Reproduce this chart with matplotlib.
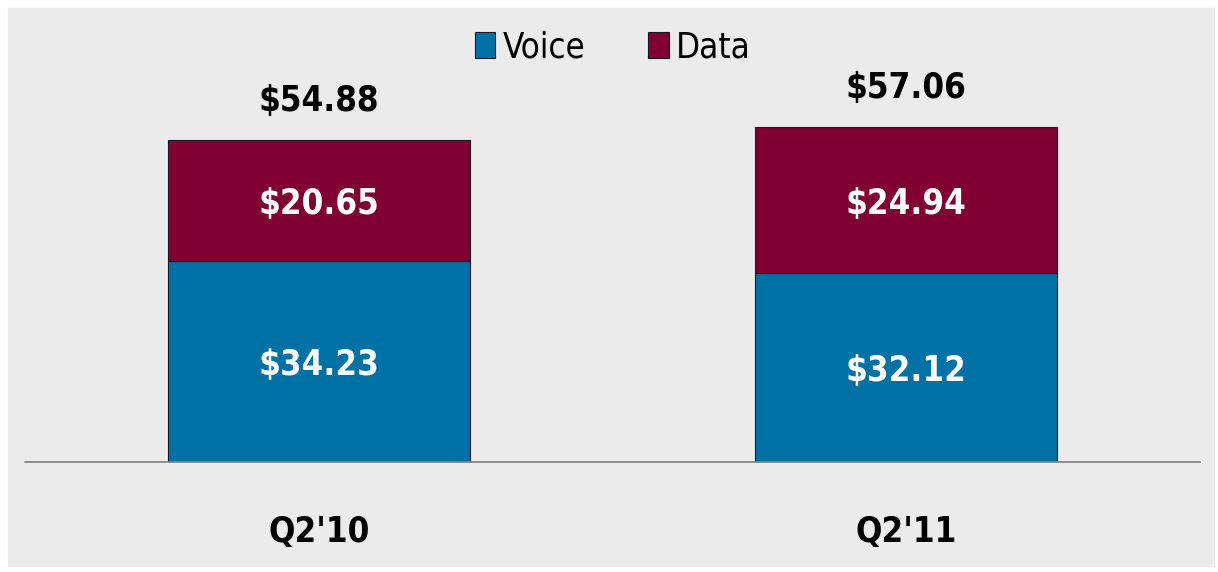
import matplotlib.pyplot as plt
import numpy as np

plt.rcParams['font.family'] = ['DejaVu Sans']
plt.rcParams['font.stretch'] = 'condensed'

quarters = ["Q2'10", "Q2'11"]
voice = [34.23, 32.12]
data = [20.65, 24.94]
totals = [54.88, 57.06]

blue = '#0071a4'
red = '#7f0031'
bg = '#ebebeb'

fig = plt.figure(figsize=(12.18, 5.72), dpi=100)
fig.patch.set_facecolor('white')
# gray panel
fig.patches.append(plt.Rectangle((8 / 1218, 6 / 572), 1206 / 1218, 558 / 572,
                                 transform=fig.transFigure, color=bg, zorder=-1))

ax = fig.add_axes([25 / 1218, 110 / 572, 1175 / 1218, 454 / 572])
ax.set_zorder(2)
ax.set_facecolor('none')
x = np.arange(len(quarters))
w = 0.514

ax.bar(x, voice, w, color=blue, edgecolor='#1a1a2a', linewidth=0.8, label='Voice')
ax.bar(x, data, w, bottom=voice, color=red, edgecolor='#1a1a2a', linewidth=0.8, label='Data')

for i in range(len(quarters)):
    ax.text(x[i], voice[i] / 2 - 0.6, f'${voice[i]:.2f}', ha='center', va='center',
            color='white', fontsize=25, fontweight='bold')
    ax.text(x[i], voice[i] + data[i] / 2 - 0.6, f'${data[i]:.2f}', ha='center', va='center',
            color='white', fontsize=25, fontweight='bold')
    ax.annotate(f'${totals[i]:.2f}', (x[i], totals[i]), xytext=(0, 28),
                textcoords='offset points', ha='center', va='center',
                fontsize=25, fontweight='bold', color='black')

ax.set_xlim(-0.5, 1.5)
ax.set_ylim(0, 77.3)
for s in ['top', 'right', 'left']:
    ax.spines[s].set_visible(False)
ax.spines['bottom'].set_color('#808080')
ax.spines['bottom'].set_linewidth(1.2)
ax.set_yticks([])
ax.set_xticks(x)
ax.set_xticklabels(quarters, fontsize=25, fontweight='bold')
ax.tick_params(axis='x', length=0, pad=38)

ax.legend(loc='upper center', bbox_to_anchor=(0.5, 1.02), ncol=2, frameon=False,
          fontsize=25, handlelength=0.6, handleheight=0.75, handletextpad=0.2,
          columnspacing=1.8)

fig.savefig('out.png', dpi=100)
